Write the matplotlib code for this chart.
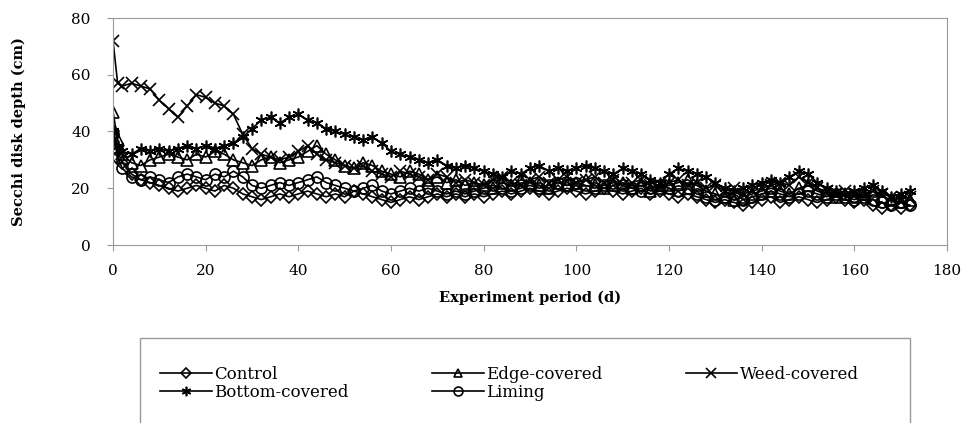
import matplotlib
matplotlib.use("Agg")
import matplotlib.pyplot as plt
from matplotlib.patches import Rectangle

plt.rcParams['font.family'] = ['DejaVu Serif']

# sampling days (day 0, day 1, then every second day)
days = [0, 1] + list(range(2, 173, 2))

control = [40, 33, 29, 25, 23, 22, 21, 20, 19, 20,
           21, 20, 19, 21, 20, 18, 17, 16, 17, 18,
           17, 18, 19, 18, 17, 18, 17, 19, 18, 17,
           16, 15, 16, 17, 16, 17, 18, 17, 18, 17,
           18, 17, 18, 19, 18, 19, 20, 19, 18, 19,
           20, 19, 18, 19, 20, 19, 18, 19, 20, 18,
           19, 18, 17, 18, 17, 16, 15, 16, 15, 14,
           15, 16, 17, 15, 16, 17, 16, 15, 16, 17,
           16, 15, 16, 14, 13, 14, 13, 14]

edge_covered = [47, 37, 32, 29, 28, 30, 31, 32, 31, 30,
                32, 31, 33, 32, 30, 29, 28, 30, 31, 29,
                30, 31, 33, 35, 32, 30, 28, 27, 29, 28,
                26, 25, 24, 26, 25, 23, 24, 22, 23, 21,
                22, 21, 20, 22, 21, 23, 22, 21, 20, 22,
                21, 22, 23, 21, 20, 21, 22, 20, 21, 19,
                20, 21, 22, 23, 21, 19, 18, 17, 16, 17,
                18, 19, 20, 19, 18, 20, 21, 19, 18, 17,
                18, 17, 18, 19, 17, 16, 15, 16]

weed_covered = [72, 57, 56, 57, 56, 55, 51, 48, 45, 49,
                53, 52, 50, 49, 46, 39, 34, 32, 31, 30,
                31, 33, 35, 32, 30, 29, 28, 27, 28, 26,
                25, 24, 26, 25, 24, 23, 25, 24, 22, 23,
                22, 21, 23, 24, 22, 21, 23, 24, 22, 23,
                24, 22, 23, 24, 22, 23, 21, 22, 23, 21,
                20, 22, 23, 21, 22, 20, 21, 19, 20, 18,
                19, 20, 21, 22, 21, 24, 22, 20, 19, 18,
                19, 18, 17, 19, 18, 17, 16, 17]

bottom_covered = [40, 35, 33, 32, 34, 33, 34, 33, 34, 35,
                  34, 35, 34, 35, 36, 38, 41, 44, 45, 43,
                  45, 46, 44, 43, 41, 40, 39, 38, 37, 38,
                  36, 33, 32, 31, 30, 29, 30, 28, 27, 28,
                  27, 26, 25, 24, 26, 25, 27, 28, 26, 27,
                  26, 27, 28, 27, 26, 25, 27, 26, 25, 23,
                  22, 25, 27, 26, 25, 24, 22, 20, 19, 20,
                  21, 22, 23, 22, 24, 26, 25, 22, 20, 19,
                  18, 19, 20, 21, 19, 17, 18, 19]

liming = [39, 31, 27, 24, 23, 24, 23, 22, 24, 25,
          24, 23, 25, 24, 26, 24, 21, 20, 21, 22,
          21, 22, 23, 24, 22, 21, 20, 19, 20, 21,
          19, 18, 19, 20, 19, 20, 19, 18, 19, 18,
          19, 20, 21, 20, 19, 20, 21, 20, 21, 22,
          21, 22, 21, 20, 21, 22, 21, 20, 19, 20,
          21, 20, 19, 20, 18, 17, 16, 17, 18, 16,
          17, 18, 19, 18, 17, 18, 19, 18, 17, 18,
          17, 16, 17, 16, 15, 14, 15, 14]

fig = plt.figure(figsize=(9.62, 4.23), dpi=100)
ax = fig.add_axes([113 / 962, (423 - 245) / 423, 834 / 962, 227 / 423])

mk = dict(color='black', lw=1.2, markerfacecolor='none', markeredgewidth=1.2)
h_ctrl, = ax.plot(days, control, marker='D', markersize=6.5, label='Control', **mk)
h_edge, = ax.plot(days, edge_covered, marker='^', markersize=8, label='Edge-covered', **mk)
h_weed, = ax.plot(days, weed_covered, marker='x', markersize=8.5, label='Weed-covered', **mk)
h_bot, = ax.plot(days, bottom_covered, marker=(6, 2, 0), markersize=8.5, label='Bottom-covered', **mk)
h_lim, = ax.plot(days, liming, marker='o', markersize=8, label='Liming', **mk)

ax.set_xlim(0, 180)
ax.set_ylim(0, 80)
ax.set_xticks(range(0, 181, 20))
ax.set_yticks(range(0, 81, 20))
for s in ax.spines.values():
    s.set_color('#999999')
ax.tick_params(colors='#999999', labelcolor='black', labelsize=11, length=4)
ax.tick_params(axis='x', pad=10)
ax.tick_params(axis='y', pad=12)
ax.set_xlabel('Experiment period (d)', fontsize=10.5, fontweight='bold')
ax.set_ylabel('Secchi disk depth (cm)', fontsize=10.5, fontweight='bold')
ax.xaxis.set_label_coords(0.5, -0.2)
ax.yaxis.set_label_coords(-0.104, 0.5)

# legend box (runs off the bottom of the figure, as in the original)
fig.patches.append(Rectangle((140 / 962, -0.05), 770 / 962, 0.05 + (423 - 338) / 423,
                             transform=fig.transFigure, fill=False,
                             edgecolor='#999999', lw=1.0))
fig.legend([h_ctrl, h_bot, h_edge, h_lim, h_weed],
           ['Control', 'Bottom-covered', 'Edge-covered', 'Liming', 'Weed-covered'],
           ncol=3, loc='upper left', bbox_to_anchor=(160 / 962, (423 - 366) / 423),
           frameon=False, fontsize=12, handlelength=3.1, handletextpad=0.15,
           columnspacing=5.0, labelspacing=0.05, borderpad=0, borderaxespad=0,
           markerscale=0.8)

fig.savefig('out.png', dpi=100)
